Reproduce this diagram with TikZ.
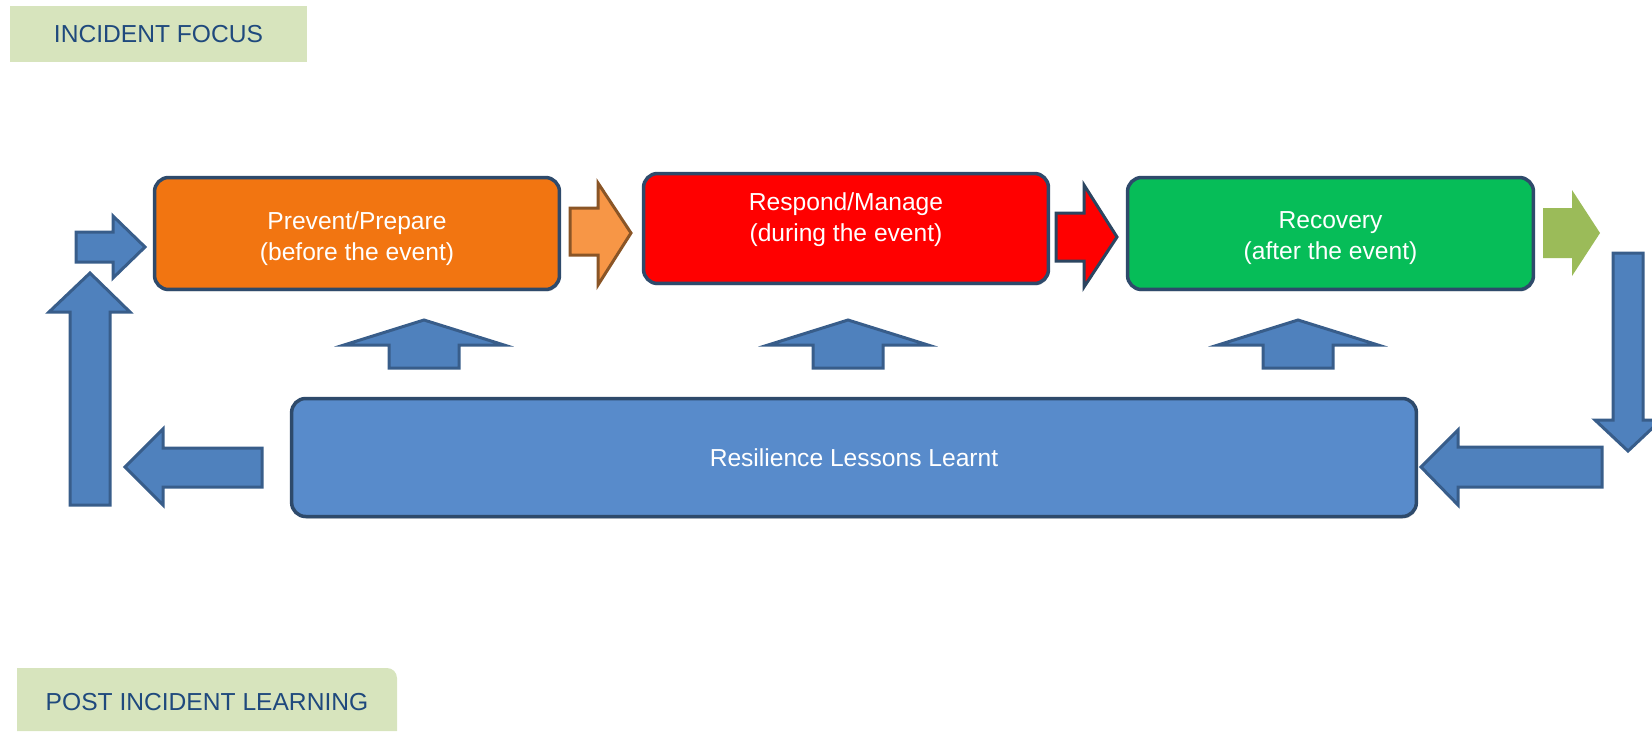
\documentclass[tikz,border=0pt]{standalone}
\usepackage{fontspec}
\setmainfont{Liberation Sans}
\usetikzlibrary{
  shadows
}
\definecolor{labelgreen}{RGB}{215,228,189}
\definecolor{labeltext}{RGB}{31,73,125}
\definecolor{boxline}{RGB}{46,74,107}
\definecolor{orangebox}{RGB}{242,117,17}
\definecolor{redbox}{RGB}{255,0,0}
\definecolor{greenbox}{RGB}{6,189,88}
\definecolor{lessonblue}{RGB}{88,139,203}
\definecolor{arrowblue}{RGB}{79,129,189}
\definecolor{arrowline}{RGB}{56,93,138}
\definecolor{orangearrow}{RGB}{247,150,70}
\definecolor{orangeline}{RGB}{138,85,38}
\definecolor{redline}{RGB}{43,69,96}
\definecolor{greenarrow}{RGB}{155,187,89}

\begin{document}
\begin{tikzpicture}[
  x=0.02cm,
  y=-0.02cm,
  tag/.style={
    fill=labelgreen,
    text=labeltext,
    inner sep=0pt,
    font=\fontsize{14}{17}\selectfont
  },
  stagebox/.style={
    draw=boxline,
    line width=0.07cm,
    rounded corners=0.28cm,
    minimum width=8.1cm,
    minimum height=2.24cm,
    inner sep=0pt,
    text=white,
    align=center,
    font=\fontsize{14}{17.6}\selectfont,
    drop shadow={shadow xshift=0.02cm, shadow yshift=-0.04cm, opacity=0.35}
  },
  stagetext/.style={
    text=white,
    align=center,
    inner sep=0pt,
    font=\fontsize{14}{17.6}\selectfont
  },
  blockarrow/.style={
    fill=arrowblue,
    draw=arrowline,
    line width=0.06cm,
    line join=miter
  }
]
\useasboundingbox (0,0) rectangle (1652,731);

% Labels
\node (focus) [tag, minimum width=5.94cm, minimum height=1.12cm] at (158.5,34) {INCIDENT FOCUS};
\fill[labelgreen] (17,731) -- (17,668) -- (387,668)
  arc[start angle=90, end angle=0, radius=0.2cm] -- (397,731) -- cycle;
\node (learning) [tag, fill=none] at (207,702) {POST INCIDENT LEARNING};

% Stages
\node (prevent) [stagebox, fill=orangebox] at (357,233.5) {};
\node [stagetext] at ([yshift=-0.1cm]prevent.center) {Prevent/Prepare\\(before the event)};
\node (respond) [stagebox, fill=redbox, minimum height=2.2cm] at (846,228.5) {};
\node [stagetext] at ([yshift=0.17cm]respond.center) {Respond/Manage\\(during the event)};
\node (recovery) [stagebox, fill=greenbox, minimum width=8.12cm] at (1330.5,233.5) {};
\node [stagetext] at ([yshift=-0.1cm]recovery.center) {Recovery\\(after the event)};
\node (lessons) [stagebox, fill=lessonblue, minimum width=22.5cm, minimum height=2.36cm] at (854,457.5) {Resilience Lessons Learnt};

% Arrows between stages
\draw[blockarrow] (76,232) -- (113,232) -- (113,216) -- (145,247)
  -- (113,278) -- (113,262) -- (76,262) -- cycle;
\draw[blockarrow, fill=orangearrow, draw=orangeline] (570,208) -- (598,208) -- (598,183)
  -- (631,233) -- (598,285) -- (598,255) -- (570,255) -- cycle;
\draw[blockarrow, fill=redbox, draw=redline] (1056,213) -- (1084,213) -- (1084,185)
  -- (1117,237) -- (1084,287) -- (1084,261) -- (1056,261) -- cycle;
\fill[greenarrow] (1543,208) -- (1572,208) -- (1572,190) -- (1600,233)
  -- (1572,276) -- (1572,258) -- (1543,258) -- cycle;

% Loop back
\draw[blockarrow] (1613,253) -- (1643,253) -- (1643,420) -- (1661,420)
  -- (1628,451) -- (1595,420) -- (1613,420) -- cycle;
\draw[blockarrow] (1602,447) -- (1602,487) -- (1458,487) -- (1458,505)
  -- (1421,467) -- (1458,430) -- (1458,447) -- cycle;
\draw[blockarrow] (262,448) -- (262,487) -- (163,487) -- (163,505)
  -- (125,467) -- (163,429) -- (163,448) -- cycle;
\draw[blockarrow] (70,505) -- (70,312) -- (49,312) -- (90,273)
  -- (130,312) -- (110,312) -- (110,505) -- cycle;

% Lessons feeding the stages
\foreach \dx in {0,424,874} {
  \draw[blockarrow] (389+\dx,368) -- (389+\dx,345) -- (344+\dx,345) -- (424+\dx,320)
    -- (504+\dx,345) -- (459+\dx,345) -- (459+\dx,368) -- cycle;
}

\end{tikzpicture}
\end{document}
